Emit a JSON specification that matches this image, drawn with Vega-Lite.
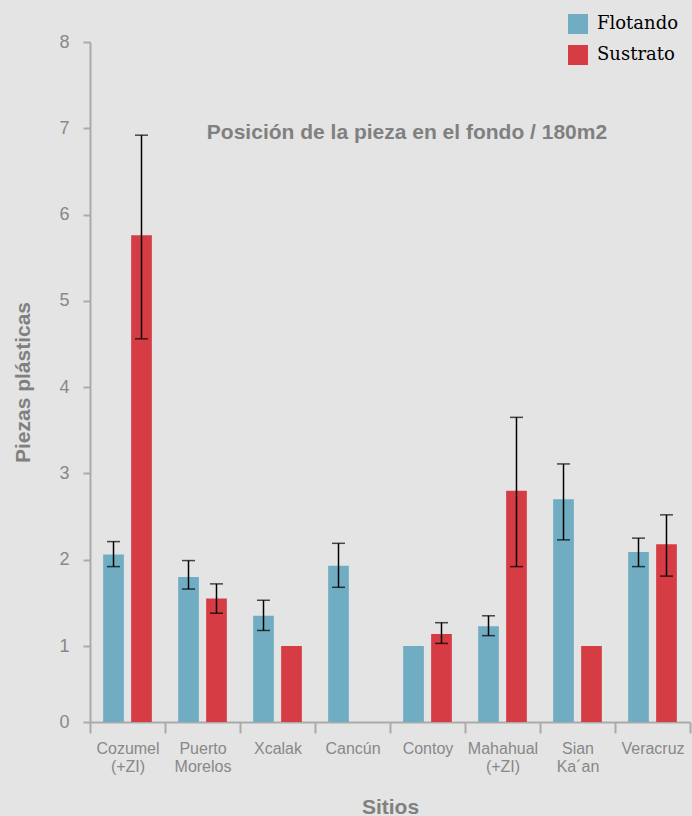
{
  "$schema": "https://vega.github.io/schema/vega-lite/v6.json",
  "width": 600,
  "height": 680,
  "autosize": {"type": "none"},
  "padding": {"left": 90, "top": 42, "right": 2, "bottom": 94},
  "background": "#e4e4e4",
  "config": {"view": {"stroke": null}, "font": "Liberation Sans"},
  "title": {
    "text": "Posición de la pieza en el fondo / 180m2",
    "fontSize": 21,
    "fontWeight": "bold",
    "color": "#808080",
    "anchor": "middle",
    "offset": -129,
    "dx": 17,
    "font": "Liberation Sans"
  },
  "data": {
    "values": [
      {"sitio": "Cozumel (+ZI)", "tipo": "Flotando", "valor": 2.06, "lo": 1.92, "hi": 2.21},
      {"sitio": "Cozumel (+ZI)", "tipo": "Sustrato", "valor": 5.76, "lo": 4.56, "hi": 6.92},
      {"sitio": "Puerto Morelos", "tipo": "Flotando", "valor": 1.8, "lo": 1.66, "hi": 1.99},
      {"sitio": "Puerto Morelos", "tipo": "Sustrato", "valor": 1.55, "lo": 1.38, "hi": 1.72},
      {"sitio": "Xcalak", "tipo": "Flotando", "valor": 1.35, "lo": 1.18, "hi": 1.53},
      {"sitio": "Xcalak", "tipo": "Sustrato", "valor": 1.0, "lo": null, "hi": null},
      {"sitio": "Cancún", "tipo": "Flotando", "valor": 1.93, "lo": 1.68, "hi": 2.19},
      {"sitio": "Contoy", "tipo": "Flotando", "valor": 1.0, "lo": null, "hi": null},
      {"sitio": "Contoy", "tipo": "Sustrato", "valor": 1.14, "lo": 1.03, "hi": 1.27},
      {"sitio": "Mahahual (+ZI)", "tipo": "Flotando", "valor": 1.23, "lo": 1.12, "hi": 1.35},
      {"sitio": "Mahahual (+ZI)", "tipo": "Sustrato", "valor": 2.8, "lo": 1.92, "hi": 3.65},
      {"sitio": "Sian Ka´an", "tipo": "Flotando", "valor": 2.7, "lo": 2.23, "hi": 3.11},
      {"sitio": "Sian Ka´an", "tipo": "Sustrato", "valor": 1.0, "lo": null, "hi": null},
      {"sitio": "Veracruz", "tipo": "Flotando", "valor": 2.09, "lo": 1.92, "hi": 2.25},
      {"sitio": "Veracruz", "tipo": "Sustrato", "valor": 2.18, "lo": 1.81, "hi": 2.52}
    ]
  },
  "encoding": {
    "x": {
      "field": "sitio",
      "type": "nominal",
      "sort": null,
      "scale": {"paddingInner": 0, "paddingOuter": 0},
      "axis": {
        "title": "Sitios",
        "tickBand": "extent",
        "labelAngle": 0,
        "labelExpr": "split(datum.label, ' ')",
        "labelFontSize": 16,
        "labelColor": "#888888",
        "labelPadding": 7,
        "labelLineHeight": 18,
        "tickSize": 11,
        "tickColor": "#aaaaaa",
        "tickWidth": 2,
        "domainColor": "#aaaaaa",
        "domainWidth": 2,
        "titleFontSize": 21,
        "titleFontWeight": "bold",
        "titleColor": "#808080",
        "titlePadding": 22
      }
    },
    "xOffset": {
      "field": "tipo",
      "type": "nominal",
      "scale": {"domain": ["Flotando", "Sustrato"], "paddingInner": 0.26, "paddingOuter": 0.47}
    }
  },
  "layer": [
    {
      "mark": {"type": "bar"},
      "encoding": {
        "y": {
          "field": "valor",
          "type": "quantitative",
          "scale": {"domain": [0, 1, 8], "range": [680, 604, 0]},
          "axis": {
            "title": "Piezas plásticas",
            "values": [0, 1, 2, 3, 4, 5, 6, 7, 8],
            "format": "d",
            "grid": false,
            "tickSize": 7,
            "tickColor": "#aaaaaa",
            "tickWidth": 2,
            "domainColor": "#aaaaaa",
            "domainWidth": 2,
            "labelFontSize": 18,
            "labelColor": "#888888",
            "labelPadding": 14,
            "titleFontSize": 21,
            "titleFontWeight": "bold",
            "titleColor": "#808080",
            "titlePadding": 25
          }
        },
        "color": {
          "field": "tipo",
          "type": "nominal",
          "scale": {"domain": ["Flotando", "Sustrato"], "range": ["#70adc2", "#d63c44"]},
          "legend": {
            "orient": "none",
            "legendX": 478,
            "legendY": -28,
            "title": null,
            "symbolType": "square",
            "symbolSize": 400,
            "symbolStrokeWidth": 0,
            "symbolOpacity": 1,
            "labelFont": "DejaVu Serif",
            "labelFontSize": 18,
            "labelColor": "#000000",
            "labelOffset": 9,
            "rowPadding": 11,
            "padding": 0
          }
        }
      }
    },
    {
      "mark": {"type": "rule", "color": "black", "strokeWidth": 1.5},
      "encoding": {
        "y": {"field": "lo", "type": "quantitative"},
        "y2": {"field": "hi"}
      }
    },
    {
      "mark": {"type": "tick", "color": "black", "thickness": 1.5, "size": 13},
      "encoding": {"y": {"field": "lo", "type": "quantitative"}}
    },
    {
      "mark": {"type": "tick", "color": "black", "thickness": 1.5, "size": 13},
      "encoding": {"y": {"field": "hi", "type": "quantitative"}}
    }
  ]
}
